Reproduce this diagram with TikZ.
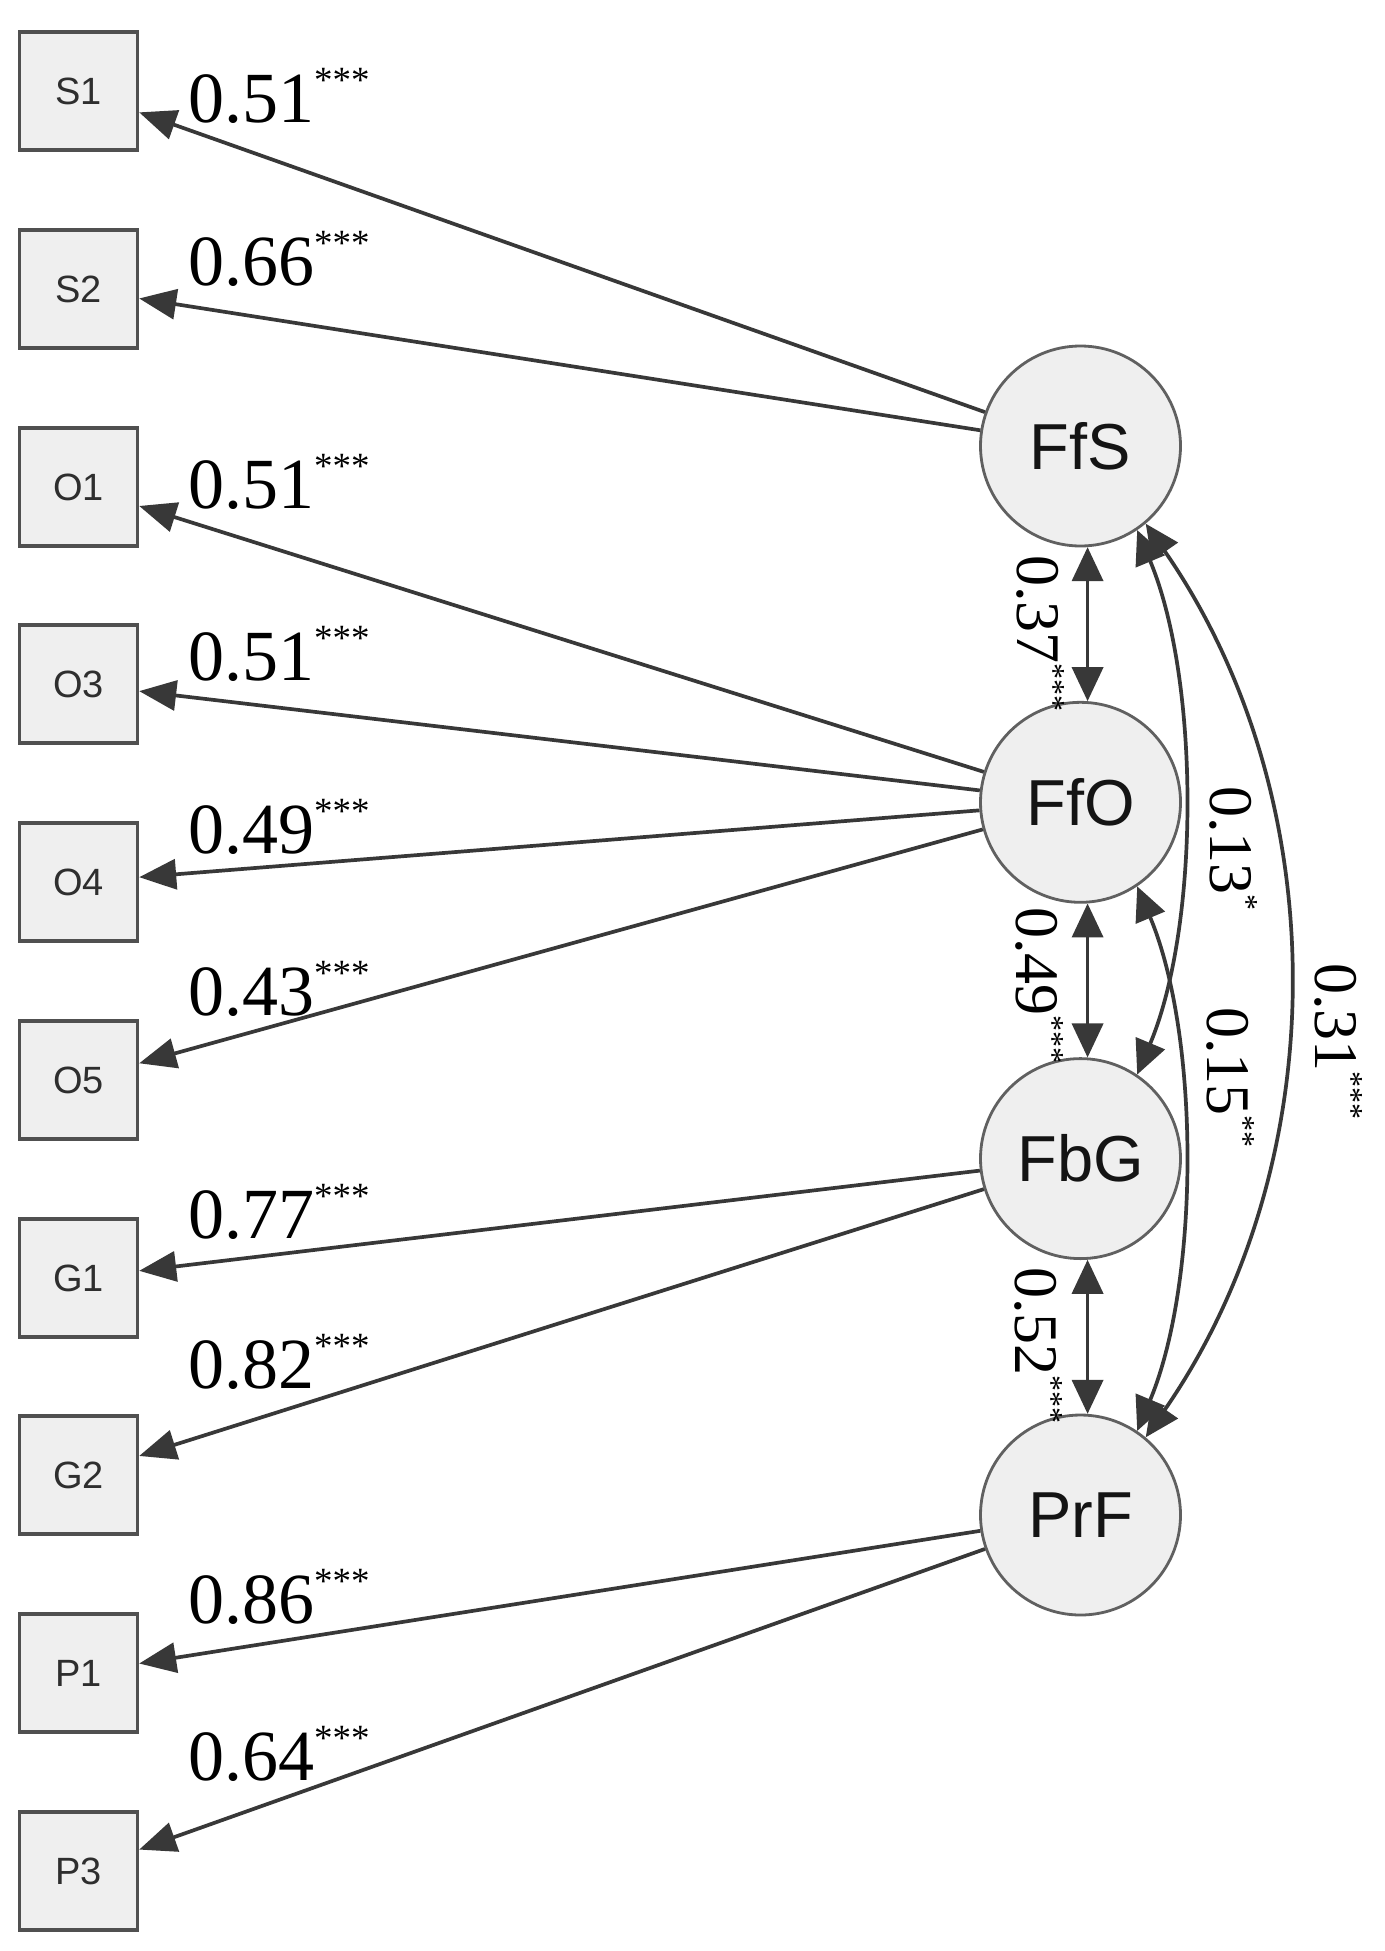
\documentclass[tikz,border=0pt]{standalone}
\usepackage{fontspec}
\setmainfont{Liberation Serif}
\newfontfamily\sansf{Liberation Sans}
\usetikzlibrary{arrows.meta}
\definecolor{edgec}{HTML}{383838}
\definecolor{boxfill}{HTML}{EFEFEF}
\definecolor{boxdraw}{HTML}{505050}
\definecolor{circdraw}{HTML}{606060}
\newcommand{\lablft}[2]{\fontsize{72}{72}\selectfont #1\raisebox{30pt}{\fontsize{37}{37}\selectfont #2}}
\newcommand{\labrgt}[2]{\fontsize{62}{62}\selectfont #1\raisebox{26pt}{\fontsize{32}{32}\selectfont #2}}
\begin{document}
\begin{tikzpicture}[x=1pt,y=-1pt,
 obs/.style={draw=boxdraw, line width=3.4pt, fill=boxfill, minimum width=118pt, minimum height=118pt, inner sep=0pt, font=\sansf\fontsize{38}{38}\selectfont, text=black!82},
 lat/.style={circle, draw=circdraw, line width=2.8pt, fill=boxfill, minimum size=200pt, inner sep=0pt, font=\sansf\fontsize{65}{65}\selectfont, text=black!92},
 load/.style={draw=edgec, line width=3.7pt, -{Triangle[length=37pt,width=30pt]}},
 cov/.style={draw=edgec, line width=3.7pt, {Triangle[length=34pt,width=31pt]}-{Triangle[length=34pt,width=31pt]}},
 lab/.style={anchor=base west, inner sep=0pt, text=black},
 vlab/.style={anchor=base west, inner sep=0pt, rotate=-90, text=black}
]
\fill[white] (0,0) rectangle (1384,1951);
\path[use as bounding box] (0,0) rectangle (1384,1951);

% observed variables
\node[obs] (S1) at (78.5,91) {S1};
\node[obs] (S2) at (78.5,289) {S2};
\node[obs] (O1) at (78.5,487) {O1};
\node[obs] (O3) at (78.5,684) {O3};
\node[obs] (O4) at (78.5,882) {O4};
\node[obs] (O5) at (78.5,1080) {O5};
\node[obs] (G1) at (78.5,1278) {G1};
\node[obs] (G2) at (78.5,1475) {G2};
\node[obs] (P1) at (78.5,1673) {P1};
\node[obs] (P3) at (78.5,1871) {P3};

% latent variables
\node[lat] (FfS) at (1080.5,446) {FfS};
\node[lat] (FfO) at (1080.5,802.3) {FfO};
\node[lat] (FbG) at (1080.5,1158.6) {FbG};
\node[lat] (PrF) at (1080.5,1515) {PrF};

% loadings
\draw[load] (FfS) -- (S1);
\draw[load] (FfS) -- (S2);
\draw[load] (FfO) -- (O1);
\draw[load] (FfO) -- (O3);
\draw[load] (FfO) -- (O4);
\draw[load] (FfO) -- (O5);
\draw[load] (FbG) -- (G1);
\draw[load] (FbG) -- (G2);
\draw[load] (PrF) -- (P1);
\draw[load] (PrF) -- (P3);

% covariances
\draw[cov] (FfS.-86) -- (FfO.86);
\draw[cov] (FfO.-86) -- (FbG.86);
\draw[cov] (FbG.-86) -- (PrF.86);
\draw[cov] (FfS.-56) .. controls (1200,680) and (1200,925) .. (FbG.56);
\draw[cov] (FfO.-56) .. controls (1200,1036) and (1200,1281) .. (PrF.56);
\draw[cov] (FfS.-50) .. controls (1335.6,798) and (1335.6,1163) .. (PrF.50);

% loading labels
\node[lab] (l1) at (188,122) {\lablft{0.51}{***}};
\node[lab] (l2) at (188,285) {\lablft{0.66}{***}};
\node[lab] (l3) at (188,508) {\lablft{0.51}{***}};
\node[lab] (l4) at (188,680) {\lablft{0.51}{***}};
\node[lab] (l5) at (188,853) {\lablft{0.49}{***}};
\node[lab] (l6) at (188,1015) {\lablft{0.43}{***}};
\node[lab] (l7) at (188,1238) {\lablft{0.77}{***}};
\node[lab] (l8) at (188,1388) {\lablft{0.82}{***}};
\node[lab] (l9) at (188,1623) {\lablft{0.86}{***}};
\node[lab] (l10) at (188,1780) {\lablft{0.64}{***}};

% covariance labels
\node[vlab] (c1) at (1017,555) {\labrgt{0.37}{***}};
\node[vlab] (c2) at (1016,907) {\labrgt{0.49}{***}};
\node[vlab] (c3) at (1015,1267) {\labrgt{0.52}{***}};
\node[vlab] (c4) at (1210,786) {\labrgt{0.13}{*}};
\node[vlab] (c5) at (1207,1007) {\labrgt{0.15}{**}};
\node[vlab] (c6) at (1315,963) {\labrgt{0.31}{***}};
\end{tikzpicture}
\end{document}
